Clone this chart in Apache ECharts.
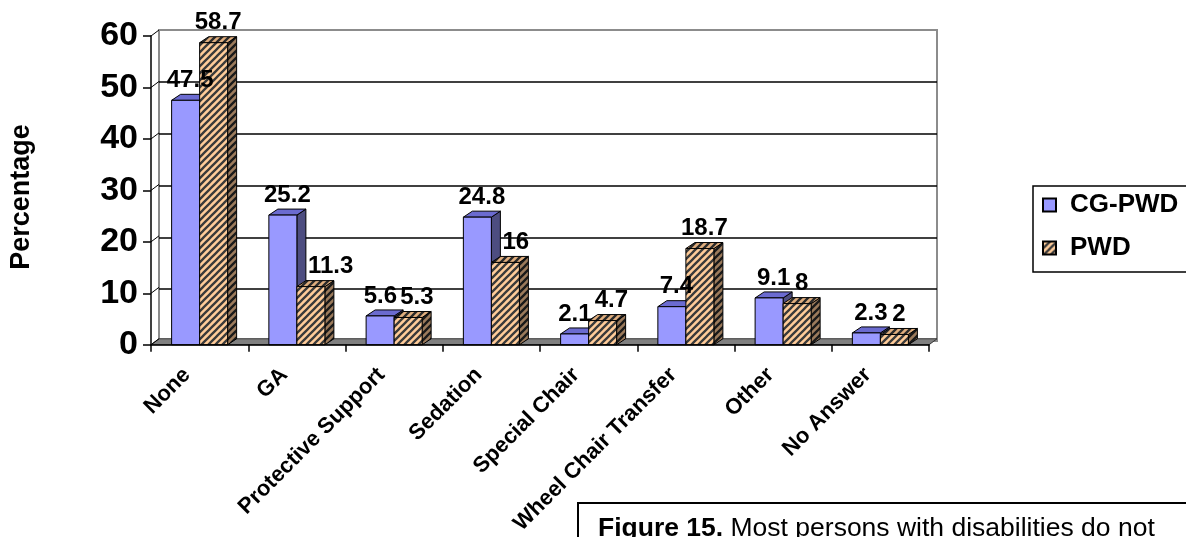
<!DOCTYPE html>
<html>
<head>
<meta charset="utf-8">
<script src="https://cdn.jsdelivr.net/npm/echarts@6/dist/echarts.min.js"></script>
<style>
html,body{margin:0;padding:0;background:#fff;}
#chart{width:1186px;height:537px;}
</style>
</head>
<body>
<div id="chart"></div>
<script>
const categories = ['None', 'GA', 'Protective Support', 'Sedation', 'Special Chair', 'Wheel Chair Transfer', 'Other', 'No Answer'];
const cgPwdValues = [47.5, 25.2, 5.6, 24.8, 2.1, 7.4, 9.1, 2.3];
const pwdValues = [58.7, 11.3, 5.3, 16, 4.7, 18.7, 8, 2];
const seriesNames = ['CG-PWD', 'PWD'];
const yTicks = [0, 10, 20, 30, 40, 50, 60];
const captionBold = 'Figure 15.';
const captionText = ' Most persons with disabilities do not';
const yTitle = 'Percentage';

const FONT = '"Liberation Sans", Arial, Helvetica, sans-serif';
const LABEL_FONT = 'bold 24px ' + FONT;
const LABEL_H = 17;
const DX = 9, DY = -6;       // bar depth
const WDX = 8, WDY = -6;     // wall depth

const measureCtx = document.createElement('canvas').getContext('2d');
function textWidth(t) { measureCtx.font = LABEL_FONT; return measureCtx.measureText(t).width; }

function stripePattern(bg, fg) {
  const s = 7;
  const c = document.createElement('canvas');
  c.width = s; c.height = s;
  const ctx = c.getContext('2d');
  ctx.fillStyle = bg; ctx.fillRect(0, 0, s, s);
  ctx.strokeStyle = fg; ctx.lineWidth = 2.3;
  ctx.beginPath();
  for (let k = -1; k <= 1; k++) {
    ctx.moveTo(k * s - 1, s + 1);
    ctx.lineTo(k * s + s + 1, -1);
  }
  ctx.stroke();
  return { image: c, repeat: 'repeat' };
}

const pwdFront = stripePattern('#FFCC99', '#3a3a3a');
const pwdTop = stripePattern('#E0AE7E', '#2a2a2a');
const pwdSide = stripePattern('#9C7B5C', '#1a1a1a');
const cgFront = '#9999FF';
const cgTop = '#6B6BD0';
const cgSide = '#4D4D80';

// label placement with simple overlap avoidance (like the spreadsheet does)
function labelPos(api, cat) {
  const bw = api.size([1, 0])[0] * 0.288;
  const vals = [cgPwdValues[cat], pwdValues[cat]];
  const pos = vals.map(function (v, k) {
    const p = api.coord([cat, v]);
    const x0 = k === 0 ? p[0] - bw : p[0];
    const w = textWidth(String(v));
    return { cx: x0 + bw / 2 + DX / 2, y: p[1] + DY - 2, w: w, barRight: x0 + bw + DX, barTop: p[1] + DY };
  });
  const a = pos[0], b = pos[1];
  // PWD label must not sit on the taller CG bar
  if (vals[0] > vals[1] && b.y > a.barTop + 2) {
    const minC = a.barRight + 2 + b.w / 2;
    if (b.cx < minC) b.cx = minC;
  }
  // labels must not overlap each other
  if (Math.abs(a.y - b.y) < LABEL_H) {
    const need = (a.w + b.w) / 2 + 3;
    const sep = b.cx - a.cx;
    if (sep < need) { a.cx -= (need - sep) / 2; b.cx += (need - sep) / 2; }
  }
  return pos;
}

function barRender(idx, front, top, side) {
  return function (params, api) {
    const cat = api.value(0), val = api.value(1);
    const pTop = api.coord([cat, val]);
    const pBase = api.coord([cat, 0]);
    const bw = api.size([1, 0])[0] * 0.288;
    const x0 = idx === 0 ? pTop[0] - bw : pTop[0];
    const x1 = x0 + bw;
    const y0 = pTop[1], yb = pBase[1];
    const ls = { stroke: '#000', lineWidth: 1 };
    const lp = labelPos(api, cat)[idx];
    return {
      type: 'group',
      children: [
        { type: 'polygon', shape: { points: [[x1, y0], [x1 + DX, y0 + DY], [x1 + DX, yb + DY], [x1, yb]] },
          style: Object.assign({ fill: side }, ls) },
        { type: 'polygon', shape: { points: [[x0, y0], [x0 + DX, y0 + DY], [x1 + DX, y0 + DY], [x1, y0]] },
          style: Object.assign({ fill: top }, ls) },
        { type: 'rect', shape: { x: x0, y: y0, width: bw, height: yb - y0 },
          style: Object.assign({ fill: front }, ls) },
        { type: 'text', z2: 100,
          style: { text: String(val), x: lp.cx, y: lp.y,
                   align: 'center', verticalAlign: 'bottom',
                   font: LABEL_FONT, fill: '#000' } }
      ]
    };
  };
}

function decorRender(params, api) {
  const cs = params.coordSys;
  const children = [];
  const yb = cs.y + cs.height;
  children.push({
    type: 'polygon',
    shape: { points: [[cs.x, yb], [cs.x + WDX, yb + WDY], [cs.x + cs.width + WDX, yb + WDY], [cs.x + cs.width, yb]] },
    style: { fill: '#808080', stroke: '#333', lineWidth: 1 }
  });
  yTicks.forEach(function (v) {
    const p = api.coord([0, v]);
    children.push({
      type: 'line',
      shape: { x1: cs.x, y1: p[1], x2: cs.x + WDX, y2: p[1] + WDY },
      style: { stroke: '#000', lineWidth: 1 }
    });
  });
  return { type: 'group', children: children };
}

const chart = echarts.init(document.getElementById('chart'));
chart.setOption({
  backgroundColor: '#fff',
  animation: false,
  grid: [
    { left: 151, right: 257, top: 36, bottom: 190 },
    { left: 151 + WDX, right: 257 - WDX, top: 36 + WDY, bottom: 190 - WDY,
      show: true, borderColor: '#8c8c8c', borderWidth: 2, backgroundColor: 'transparent' }
  ],
  xAxis: [
    { type: 'category', data: categories, gridIndex: 0, z: 5,
      axisLine: { lineStyle: { color: '#000', width: 1.5 } },
      axisTick: { show: true, length: 7, lineStyle: { color: '#000', width: 1.5 } },
      axisLabel: { interval: 0, rotate: 45, margin: 14, padding: [0, 18, 0, 0],
                   color: '#000', fontWeight: 'bold', fontSize: 22, fontFamily: FONT },
      splitLine: { show: false } },
    { type: 'value', gridIndex: 1, min: 0, max: 1, show: false }
  ],
  yAxis: [
    { type: 'value', gridIndex: 0, min: 0, max: 60, interval: 10,
      axisLine: { show: true, lineStyle: { color: '#000', width: 1.5 } },
      axisTick: { show: true, length: 8, lineStyle: { color: '#000', width: 1.5 } },
      axisLabel: { margin: 13, color: '#000', fontWeight: 'bold', fontSize: 34, fontFamily: FONT },
      splitLine: { show: false } },
    { type: 'value', gridIndex: 1, min: 0, max: 60, interval: 10,
      axisLine: { show: false }, axisTick: { show: false }, axisLabel: { show: false },
      splitLine: { show: true, lineStyle: { color: ['none', '#000', '#000', '#000', '#000', '#000', 'none'], width: 1.5 } } }
  ],
  legend: {
    data: seriesNames, orient: 'vertical', left: 1033, top: 186,
    icon: 'rect', itemWidth: 13, itemHeight: 13, itemGap: 17,
    padding: [6, 80, 11, 9],
    borderColor: '#000', borderWidth: 1.5, backgroundColor: '#fff',
    textStyle: { color: '#000', fontWeight: 'bold', fontSize: 26, fontFamily: FONT, padding: [0, 0, 0, 9] }
  },
  graphic: [
    { type: 'text', x: 22, y: 197, rotation: Math.PI / 2,
      style: { text: yTitle, x: 0, y: 0, align: 'center', verticalAlign: 'middle',
               font: 'bold 27px ' + FONT, fill: '#000' } },
    { type: 'rect', left: 577, top: 502, z: 10,
      shape: { width: 700, height: 100 },
      style: { fill: '#fff', stroke: '#000', lineWidth: 2 } },
    { type: 'text', left: 598, top: 515, z: 11,
      style: { text: '{b|' + captionBold + '}' + captionText,
               font: '26.5px ' + FONT, fill: '#000',
               rich: { b: { fontWeight: 'bold', fontSize: 26.5, fontFamily: FONT } } } }
  ],
  series: [
    { type: 'custom', name: 'decor', xAxisIndex: 0, yAxisIndex: 0, z: 1, silent: true,
      renderItem: decorRender, data: [[0, 0]], clip: false },
    { type: 'custom', name: seriesNames[0], xAxisIndex: 0, yAxisIndex: 0, z: 2, clip: false,
      itemStyle: { color: cgFront, borderColor: '#000', borderWidth: 1 },
      encode: { x: 0, y: 1 },
      renderItem: barRender(0, cgFront, cgTop, cgSide),
      data: cgPwdValues.map(function (v, i) { return [i, v]; }) },
    { type: 'custom', name: seriesNames[1], xAxisIndex: 0, yAxisIndex: 0, z: 2, clip: false,
      itemStyle: { color: pwdFront, borderColor: '#000', borderWidth: 1 },
      encode: { x: 0, y: 1 },
      renderItem: barRender(1, pwdFront, pwdTop, pwdSide),
      data: pwdValues.map(function (v, i) { return [i, v]; }) }
  ]
});
</script>
</body>
</html>
